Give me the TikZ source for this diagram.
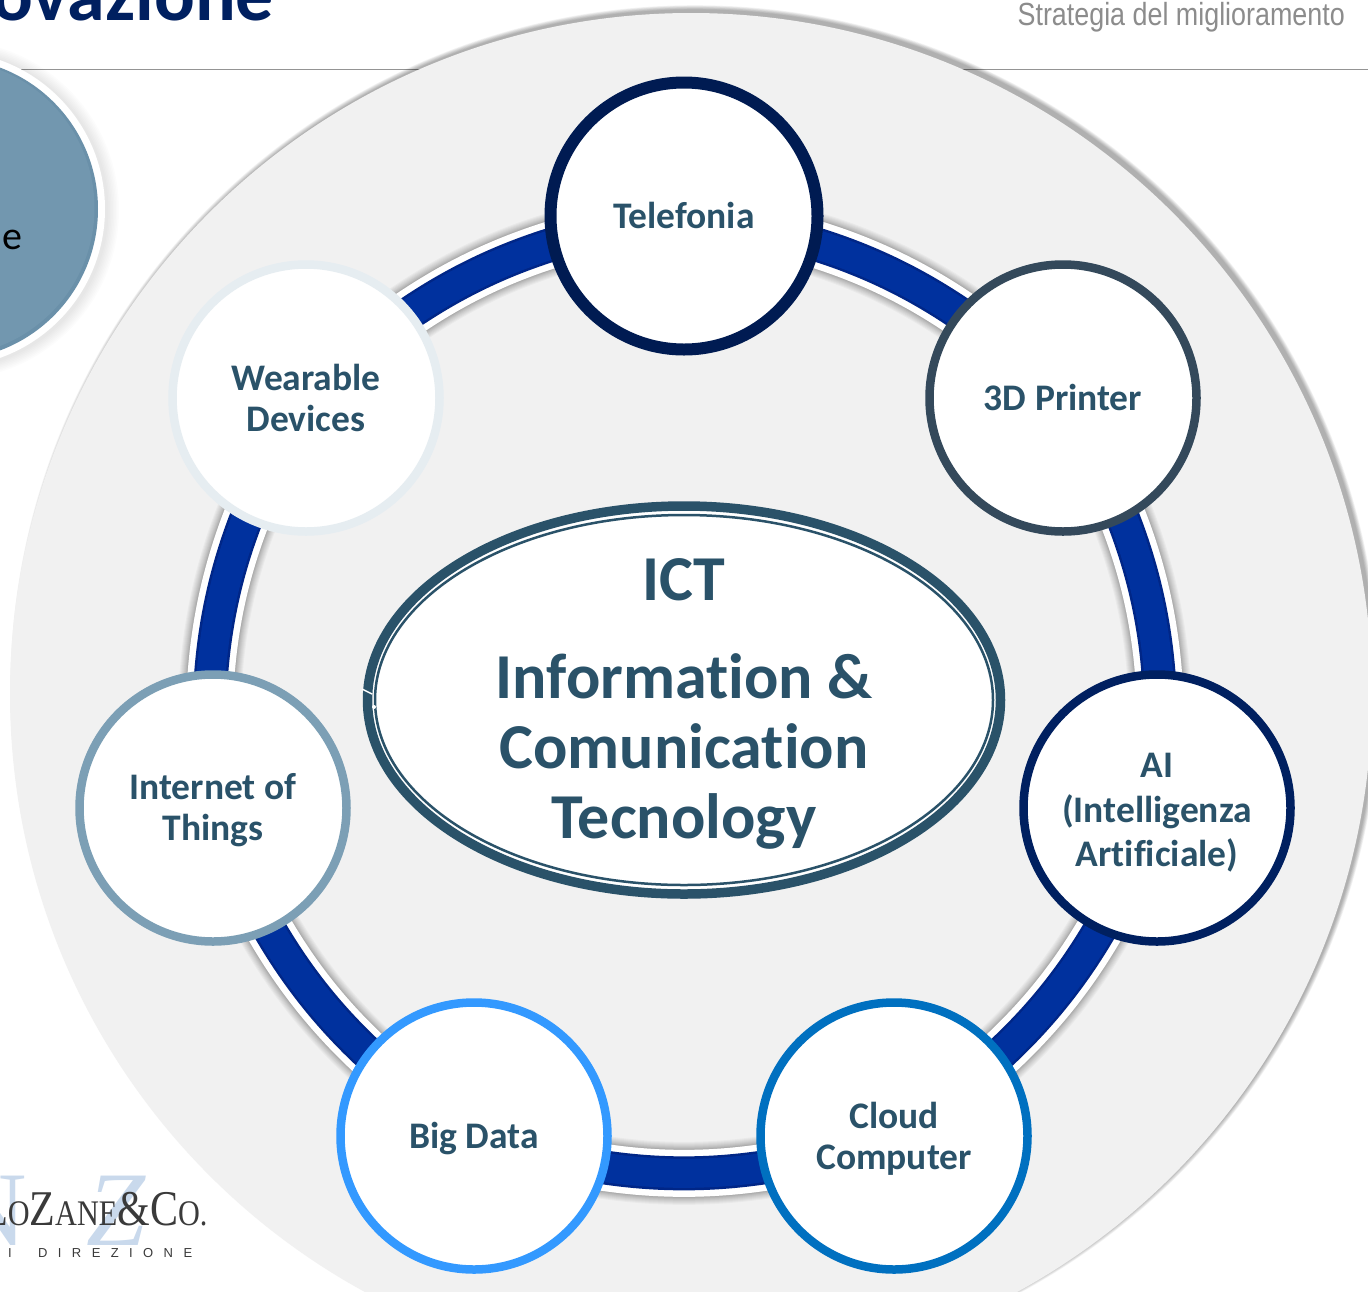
\documentclass[tikz,border=0pt]{standalone}
\usepackage{fontspec}
\setmainfont[Ligatures=NoCommon]{Carlito}
\newfontfamily\serifl{Liberation Serif}
\newfontfamily\logof[FakeStretch=0.84]{Liberation Serif}
\newfontfamily\stratf[FakeStretch=0.84]{Liberation Sans}
\newfontfamily\spacedf[LetterSpace=80]{Liberation Sans}
\usetikzlibrary{shapes.geometric}
\pgfdeclarelayer{base}
\pgfdeclarelayer{edge}
\pgfsetlayers{base,edge,main}
\definecolor{ink}{HTML}{2A5269}
\definecolor{panel}{HTML}{F1F1F1}
\definecolor{ringmain}{HTML}{00319E}
\definecolor{ringdark}{HTML}{002687}
\definecolor{titleblue}{HTML}{002060}
\definecolor{discblue}{HTML}{7297AF}
\definecolor{discedge}{HTML}{6A90A9}
\definecolor{logoblue}{HTML}{C9D9EC}
\definecolor{logoink}{HTML}{3A3A3A}
\newcommand{\lowr}[2]{\raisebox{-#1pt}[\height][\depth]{#2}}
\tikzset{
  tech/.style={circle,minimum size=267pt,inner sep=0pt,outer sep=0pt,fill=white,line width=8.5pt,
    text=ink,align=center,font=\bfseries\fontsize{37.5}{41}\selectfont},
  seg/.style={bend left=17.7,line cap=butt},
}
\begin{document}
\begin{tikzpicture}[x=1pt,y=-1pt]
\useasboundingbox (0,0) rectangle (1368,1291);
\clip (0,0) rectangle (1368,1291);
\begin{pgfonlayer}{base}
  \fill[white] (0,0) rectangle (1368,1291);
  \draw[line width=1.5pt,color=black!42] (0,69.5) -- (1368,69.5);
  % panel with its soft shadow
  \foreach \k in {1,...,8}{
    \fill[black,opacity=0.045] (695,690) circle ({680+\k*0.6});
  }
  \fill[panel] (691,694) circle (681);
  % left disc shadow
  \foreach \k in {1,...,8}{
    \fill[black,opacity=0.012] (-51,210) circle ({158+\k*1.5});
  }
\end{pgfonlayer}

% left disc
\node[circle,minimum size=316pt,inner sep=0pt,fill=white] (disc) at (-53,209) {};
\node[circle,minimum size=302pt,inner sep=0pt,fill=discedge] (discb) at (-53,209) {};
\node[circle,minimum size=296pt,inner sep=0pt,fill=discblue] (discc) at (-53.5,208) {};
\node[anchor=base west,inner sep=0pt,text=black,font=\fontsize{40}{44}\selectfont] (disctext) at (2,249) {e};

% title and header
\node[anchor=base west,inner sep=0pt,text=titleblue,font=\bfseries\fontsize{76}{80}\selectfont] (title) at (-8,20) {ovazione};
\node[anchor=base east,inner sep=0pt,text=black!45,font=\stratf\fontsize{32}{36}\selectfont] (strat) at (1345,25) {Strategia del miglioramento};

% logo
\node[anchor=base west,inner sep=0pt,text=logoblue,font=\serifl\fontsize{106}{110}\selectfont] (logoN) at (-50,1245) {N};
\node[anchor=base west,inner sep=0pt,text=logoblue,font=\serifl\itshape\fontsize{106}{110}\selectfont] (logoZ) at (86,1245) {Z};
\node[anchor=base west,inner sep=0pt,text=logoink,font=\logof\fontsize{50}{54}\selectfont] (logotext) at (-14,1225) {{\fontsize{42}{44}\selectfont L}{\fontsize{36}{40}\selectfont O}Z{\fontsize{36}{40}\selectfont ANE}\&C{\fontsize{36}{40}\selectfont O.}};
\node[anchor=base west,inner sep=0pt,text=logoink,font=\spacedf\fontsize{13}{15}\selectfont] (logosub) at (38,1257) {DIREZIONE};
\node[anchor=base west,inner sep=0pt,text=logoink,font=\spacedf\fontsize{13}{15}\selectfont] (logoi) at (8,1257) {I};

% technology nodes
\node[tech,draw=titleblue!85!black,line width=12pt] (tel) at (684,216) {\raisebox{1pt}[\height][\depth]{Telefonia}};
\node[tech,draw={rgb,255:red,52;green,73;blue,91}] (printer) at (1063,398) {\raisebox{1pt}[\height][\depth]{3D Printer}};
\node[tech,draw={rgb,255:red,0;green,32;blue,96}] (ai) at (1157,808) {\lowr{4}{AI}\\[3pt]\lowr{5}{(Intelligenza}\\[2pt]\lowr{6}{Artificiale)}};
\node[tech,draw={rgb,255:red,0;green,112;blue,192}] (cloud) at (894,1136) {\lowr{3}{Cloud}\\\lowr{3}{Computer}};
\node[tech,draw={rgb,255:red,51;green,153;blue,255}] (bigdata) at (474,1136) {\lowr{3}{Big Data}};
\node[tech,draw={rgb,255:red,124;green,159;blue,181}] (iot) at (213,808) {\lowr{2}{Internet of}\\\lowr{2}{Things}};
\node[tech,draw={rgb,255:red,230;green,237;blue,241}] (wear) at (306,398) {Wearable\\Devices};

% connecting ring
\begin{pgfonlayer}{edge}
  \foreach \wid/\col/\opa in {
     63/black/0.03, 61/black/0.03, 59/black/0.03, 57/black/0.03, 55/black/0.04,
     53/black/0.04, 51/black/0.05, 49/black/0.06,
     47/white/1, 34/ringdark/1, 29/ringmain/1}{
    \draw[seg,line width=\wid pt,color=\col,opacity=\opa] (tel.center) to (printer.center);
    \draw[seg,line width=\wid pt,color=\col,opacity=\opa] (printer.center) to (ai.center);
    \draw[seg,line width=\wid pt,color=\col,opacity=\opa] (ai.center) to (cloud.center);
    \draw[seg,line width=\wid pt,color=\col,opacity=\opa] (cloud.center) to (bigdata.center);
    \draw[seg,line width=\wid pt,color=\col,opacity=\opa] (bigdata.center) to (iot.center);
    \draw[seg,line width=\wid pt,color=\col,opacity=\opa] (iot.center) to (wear.center);
    \draw[seg,line width=\wid pt,color=\col,opacity=\opa] (wear.center) to (tel.center);
  }
\end{pgfonlayer}

% central ellipse
\node[ellipse,minimum width=633pt,minimum height=388pt,inner sep=0pt,outer sep=0pt,fill=white,draw=ink,line width=9.5pt] (ictouter) at (684,700) {};
\node[ellipse,minimum width=618pt,minimum height=370pt,inner sep=0pt,outer sep=0pt,fill=white,draw=ink,line width=2.5pt] (ictinner) at (684,700) {};
\draw[white,line width=1.5pt] (362,689) -- (372,694);
\fill[white] (374,707) circle (2);
\node[inner sep=0pt,text=ink,align=center,font=\bfseries\fontsize{64}{70}\selectfont] (ict) at (684,704) {ICT\\[28pt]Information \&\\Comunication\\Tecnology};
\end{tikzpicture}
\end{document}
